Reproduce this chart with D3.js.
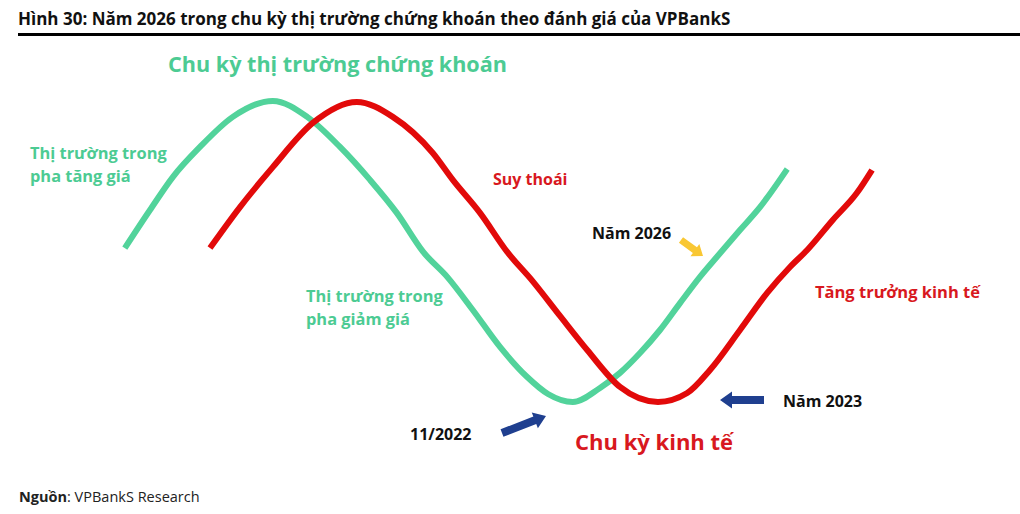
<!DOCTYPE html>
<html>
<head>
<meta charset="utf-8">
<script src="https://cdn.jsdelivr.net/npm/d3@7"></script>
<style>
    body { margin: 0; background: #ffffff; }
    text { font-family: "Open Sans", "Noto Sans", sans-serif; }
</style>
</head>
<body>
<div id="chart"></div>
<script>
// stock market cycle (green) - time units vs level
const stockT = [3.1, 6.25, 9.1, 12.5, 16.6, 21.6, 25.9, 30, 33.75, 37.1, 40.4, 43.4, 46.6, 50, 53.4, 56, 59.1, 62.5, 65, 67.5, 70, 72.5, 75, 77.1, 80, 82.5, 85.9];
const stockV = [50.6, 62.5, 72.8, 82.2, 91.6, 96.6, 91.6, 82.2, 71.9, 61.6, 49.4, 41.6, 31.25, 19.7, 10.3, 5, 2.5, 6.9, 11.6, 17.8, 25, 33.4, 41.6, 47.8, 56.25, 63.4, 75.3];
// economic cycle (red)
const econT = [13.75, 17.5, 21.6, 26.6, 32.1, 36.6, 41.6, 44.1, 47.5, 50.9, 54.1, 57.5, 60.9, 65, 69.75, 73.4, 76.25, 80, 83.4, 86.25, 88.4, 91.6, 94.6, 96.5];
const econV = [50.6, 63.4, 75.9, 89.7, 96.25, 91.6, 80.3, 71.9, 61.6, 49.4, 40.2, 29.4, 18.75, 7.2, 2.5, 5.3, 12.5, 25, 36.6, 44.7, 50, 59.4, 67.8, 75];

const TITLE = "Hình 30: Năm 2026 trong chu kỳ thị trường chứng khoán theo đánh giá của VPBankS";

const GREEN = "#52d39b";
const GREEN_TXT = "#4ccb93";
const RED = "#e20a0a";
const RED_TXT = "#d81820";
const BLUE = "#1f3f8f";
const YELLOW = "#f9c733";

const W = 1020, H = 514;

const svg = d3.select("#chart").append("svg")
    .attr("width", W)
    .attr("height", H);

// title + rule
svg.append("text")
    .attr("x", 18)
    .attr("y", 25)
    .attr("font-size", "17px")
    .attr("font-weight", "bold")
    .attr("fill", "#111")
    .text(TITLE);
svg.append("line")
    .attr("x1", 18).attr("x2", W)
    .attr("y1", 34.5).attr("y2", 34.5)
    .attr("stroke", "#000")
    .attr("stroke-width", 3);

// scales
const x = d3.scaleLinear().domain([0, 100]).range([100, 900]);
const y = d3.scaleLinear().domain([0, 100]).range([410, 90]);

const line = d3.line()
    .x(d => x(d[0]))
    .y(d => y(d[1]))
    .curve(d3.curveMonotoneX);

const stock = d3.zip(stockT, stockV);
const econ = d3.zip(econT, econV);

svg.append("path")
    .attr("d", line(stock))
    .attr("fill", "none")
    .attr("stroke", GREEN)
    .attr("stroke-width", 6);

svg.append("path")
    .attr("d", line(econ))
    .attr("fill", "none")
    .attr("stroke", RED)
    .attr("stroke-width", 6);

// arrows: thick body + triangle head
function arrow(x1, y1, x2, y2, color, body, headW, headL) {
    const ang = Math.atan2(y2 - y1, x2 - x1);
    const len = Math.hypot(x2 - x1, y2 - y1);
    const g = svg.append("g")
        .attr("transform", `translate(${x1},${y1}) rotate(${ang * 180 / Math.PI})`);
    g.append("path")
        .attr("d", `M0,${-body / 2}L${len - headL},${-body / 2}L${len - headL},${-headW / 2}L${len},0L${len - headL},${headW / 2}L${len - headL},${body / 2}L0,${body / 2}Z`)
        .attr("fill", color);
}
arrow(681, 240, 703, 256, YELLOW, 7, 15, 10);
arrow(764, 400, 720, 400, BLUE, 8, 17, 12);
arrow(502, 433, 546, 416, BLUE, 8, 17, 12);

// labels
const labels = [
    { t: "Chu kỳ thị trường chứng khoán", x: 168, y: 72, s: 21.6, c: GREEN_TXT },
    { t: "Thị trường trong", x: 30, y: 159, s: 16.4, c: GREEN_TXT },
    { t: "pha tăng giá", x: 30, y: 182, s: 16.4, c: GREEN_TXT },
    { t: "Suy thoái", x: 493, y: 185, s: 16, c: RED_TXT },
    { t: "Năm 2026", x: 592, y: 239, s: 16, c: "#111" },
    { t: "Thị trường trong", x: 306, y: 302, s: 16.4, c: GREEN_TXT },
    { t: "pha giảm giá", x: 306, y: 325, s: 16.4, c: GREEN_TXT },
    { t: "Tăng trưởng kinh tế", x: 815, y: 298, s: 16.5, c: RED_TXT },
    { t: "Năm 2023", x: 783, y: 407, s: 16, c: "#111" },
    { t: "11/2022", x: 410, y: 440, s: 16, c: "#111" },
    { t: "Chu kỳ kinh tế", x: 575, y: 450, s: 22, c: RED_TXT }
];

svg.selectAll("text.lbl")
    .data(labels)
    .join("text")
    .attr("class", "lbl")
    .attr("x", d => d.x)
    .attr("y", d => d.y)
    .attr("font-size", d => d.s + "px")
    .attr("font-weight", "bold")
    .attr("fill", d => d.c)
    .text(d => d.t);

// source
const src = svg.append("text")
    .attr("x", 19)
    .attr("y", 502)
    .attr("font-size", "14.5px")
    .attr("fill", "#222");
src.append("tspan").attr("font-weight", "bold").text("Nguồn");
src.append("tspan").text(": VPBankS Research");
</script>
</body>
</html>
